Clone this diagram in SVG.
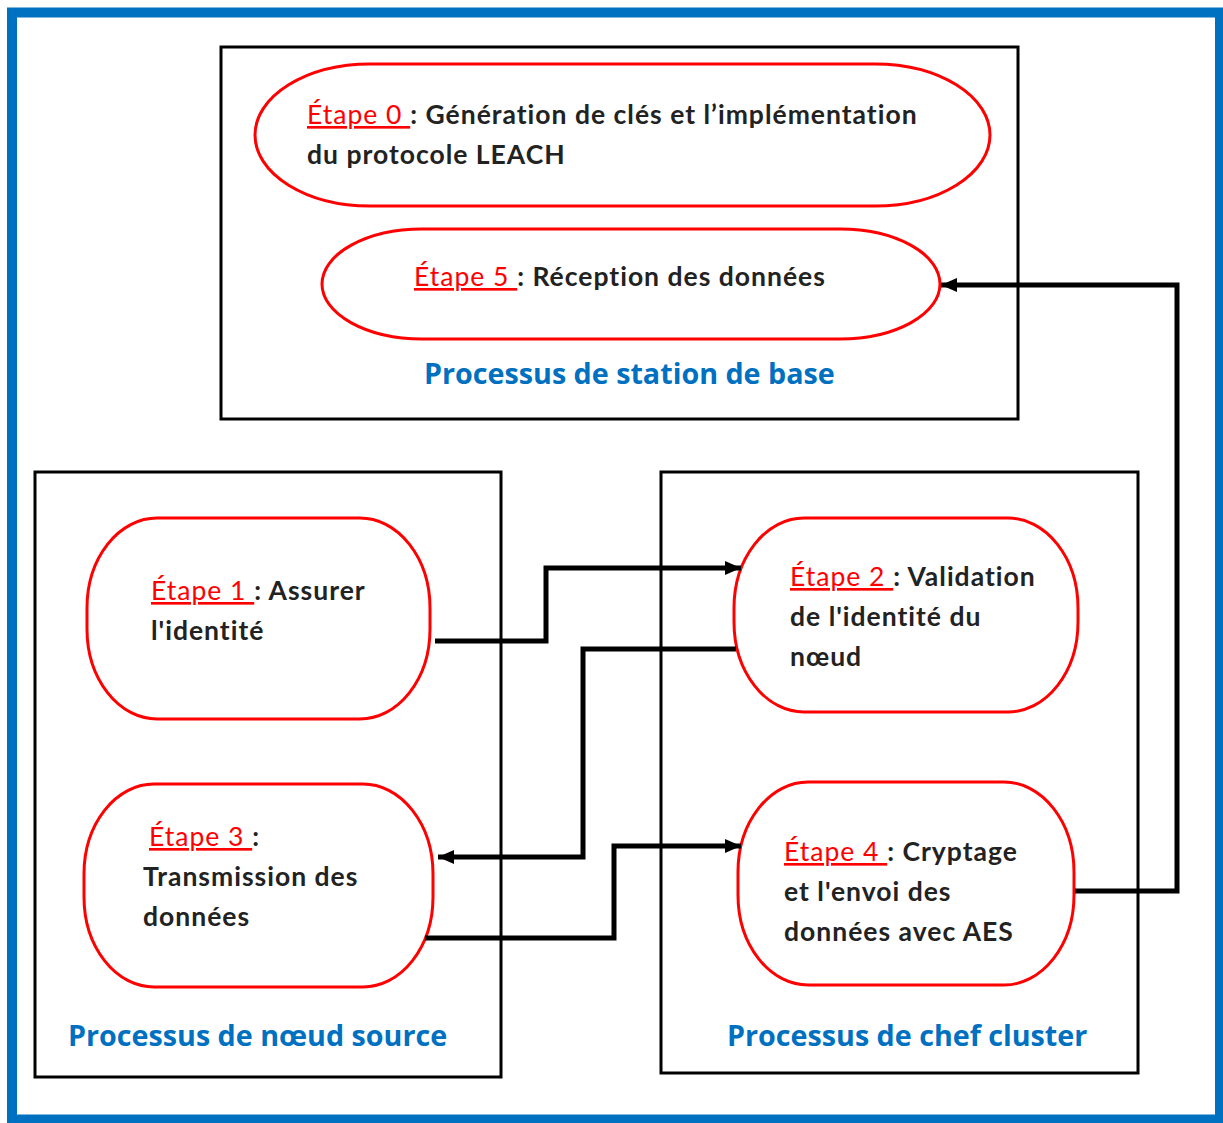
<svg xmlns="http://www.w3.org/2000/svg" width="1223" height="1123" viewBox="0 0 1223 1123">
  <defs>
    <style>
      .frame { fill: none; stroke: #0070c0; stroke-width: 10; }
      .box { fill: none; stroke: #000; stroke-width: 3; }
      .step { fill: #fff; stroke: #ff0000; stroke-width: 3; }
      .txt { font-family: Lato, "Liberation Sans", sans-serif; font-weight: bold; font-size: 26.5px; letter-spacing: 1px; fill: #222; }
      .lbl { fill: #ff0000; font-weight: normal; text-decoration: underline; }
      .title { font-family: "Open Sans", "Liberation Sans", sans-serif; font-weight: bold; font-size: 28.7px; fill: #0070c0; }
      .wire { fill: none; stroke: #000; stroke-width: 5; stroke-linejoin: miter; }
    </style>
    <marker id="head" markerUnits="userSpaceOnUse" markerWidth="18" markerHeight="18" refX="16" refY="9" orient="auto">
      <path d="M0,2 L16,9 L0,16 Z" fill="#000"/>
    </marker>
  </defs>

  <rect width="1223" height="1123" fill="#fff"/>
  <!-- outer blue frame -->
  <rect class="frame" x="12" y="12.5" width="1208" height="1107"/>

  <!-- process containers -->
  <g id="station-base">
    <rect class="box" x="221" y="47" width="797" height="372"/>
    <text class="title" x="424" y="384">Processus de station de base</text>
  </g>
  <g id="noeud-source">
    <rect class="box" x="35" y="472" width="466" height="605"/>
    <text class="title" x="68" y="1046">Processus de nœud source</text>
  </g>
  <g id="chef-cluster">
    <rect class="box" x="661" y="472" width="477" height="601"/>
    <text class="title" x="727" y="1046">Processus de chef cluster</text>
  </g>

  <!-- steps -->
  <g id="etape0">
    <rect class="step" x="255" y="64" width="735" height="142" rx="115" ry="71"/>
    <text class="txt" x="307" y="124"><tspan class="lbl">Étape 0 </tspan>: Génération de clés et l’implémentation</text>
    <text class="txt" x="307" y="164">du protocole LEACH</text>
  </g>
  <g id="etape5">
    <rect class="step" x="322" y="229" width="618" height="110" rx="100" ry="55"/>
    <text class="txt" x="414" y="286"><tspan class="lbl">Étape 5 </tspan>: Réception des données</text>
  </g>
  <g id="etape1">
    <rect class="step" x="87" y="518" width="343" height="201" rx="70" ry="90"/>
    <text class="txt" x="151" y="600"><tspan class="lbl">Étape 1 </tspan>: Assurer</text>
    <text class="txt" x="151" y="640">l'identité</text>
  </g>
  <g id="etape2">
    <rect class="step" x="734" y="518" width="344" height="194" rx="70" ry="90"/>
    <text class="txt" x="790" y="586"><tspan class="lbl">Étape 2 </tspan>: Validation</text>
    <text class="txt" x="790" y="626">de l'identité du</text>
    <text class="txt" x="790" y="666">nœud</text>
  </g>
  <g id="etape3">
    <rect class="step" x="84" y="784" width="349" height="203" rx="70" ry="90"/>
    <text class="txt" x="149" y="846"><tspan class="lbl">Étape 3 </tspan>:</text>
    <text class="txt" x="143" y="886">Transmission des</text>
    <text class="txt" x="143" y="926">données</text>
  </g>
  <g id="etape4">
    <rect class="step" x="738" y="782" width="336" height="203" rx="70" ry="90"/>
    <text class="txt" x="784" y="861"><tspan class="lbl">Étape 4 </tspan>: Cryptage</text>
    <text class="txt" x="784" y="901">et l'envoi des</text>
    <text class="txt" x="784" y="941">données avec AES</text>
  </g>

  <!-- connectors -->
  <g id="connectors">
    <path class="wire" d="M435,641 H546 V568 H741" marker-end="url(#head)"/>
    <path class="wire" d="M736,649 H583 V857 H438" marker-end="url(#head)"/>
    <path class="wire" d="M425,938 H614 V846 H741" marker-end="url(#head)"/>
    <path class="wire" d="M1075,891 H1177 V285 H941" marker-end="url(#head)"/>
  </g>
</svg>
